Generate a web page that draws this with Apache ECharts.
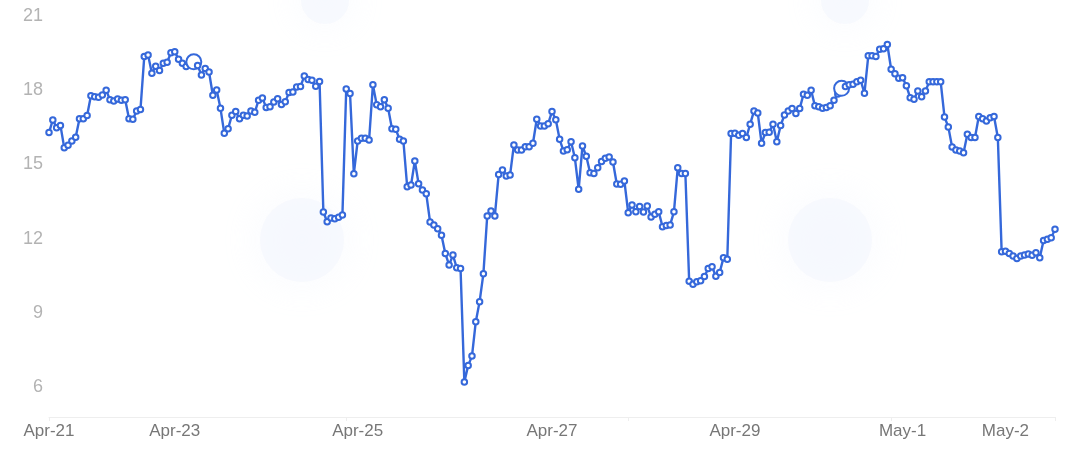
<!DOCTYPE html>
<html>
<head>
<meta charset="utf-8">
<script src="https://cdn.jsdelivr.net/npm/echarts@6/dist/echarts.min.js"></script>
<style>
    html, body {margin: 0; padding: 0; background: #fff;}
    #container {width: 1073px; height: 453px;}
</style>
</head>
<body>
<div id="container"></div>
<script>
    // price points, one per sample, left to right
    var values = [
        16.29, 16.8, 16.49, 16.58, 15.68, 15.78, 15.95, 16.1, 16.85, 16.85,
        16.98, 17.78, 17.74, 17.72, 17.81, 18.0, 17.62, 17.57, 17.65, 17.6,
        17.62, 16.85, 16.83, 17.16, 17.22, 19.36, 19.42, 18.69, 18.97, 18.8,
        19.09, 19.13, 19.52, 19.56, 19.25, 19.09, 18.96, 19.05, 19.15, 19.0,
        18.62, 18.88, 18.74, 17.8, 18.01, 17.27, 16.26, 16.45, 16.99, 17.14,
        16.85, 16.99, 16.96, 17.16, 17.11, 17.6, 17.69, 17.3, 17.33, 17.53,
        17.66, 17.42, 17.54, 17.91, 17.93, 18.13, 18.15, 18.58, 18.43, 18.4,
        18.16, 18.35, 13.08, 12.69, 12.84, 12.81, 12.87, 12.96, 18.05, 17.87,
        14.63, 15.95, 16.06, 16.06, 15.99, 18.22, 17.41, 17.33, 17.62, 17.27,
        16.45, 16.42, 16.02, 15.95, 14.1, 14.17, 15.14, 14.22, 13.97, 13.82,
        12.68, 12.56, 12.41, 12.14, 11.41, 10.94, 11.34, 10.83, 10.8, 6.21,
        6.88, 7.26, 8.65, 9.46, 10.59, 12.92, 13.12, 12.92, 14.6, 14.78,
        14.54, 14.58, 15.79, 15.59, 15.59, 15.72, 15.72, 15.86, 16.83, 16.56,
        16.56, 16.65, 17.14, 16.81, 16.02, 15.55, 15.6, 15.92, 15.27, 14.0,
        15.75, 15.33, 14.67, 14.64, 14.87, 15.12, 15.25, 15.3, 15.1, 14.21,
        14.2, 14.33, 13.05, 13.36, 13.09, 13.3, 13.08, 13.32, 12.88, 12.99,
        13.09, 12.49, 12.54, 12.56, 13.09, 14.87, 14.64, 14.64, 10.28, 10.16,
        10.26, 10.3, 10.48, 10.8, 10.87, 10.49, 10.64, 11.23, 11.17, 16.25,
        16.26, 16.18, 16.25, 16.09, 16.63, 17.16, 17.08, 15.86, 16.29, 16.3,
        16.63, 15.92, 16.58, 17.0, 17.16, 17.26, 17.06, 17.26, 17.84, 17.8,
        18.0, 17.37, 17.33, 17.27, 17.3, 17.37, 17.6, 17.85, 18.08, 18.15,
        18.22, 18.24, 18.34, 18.4, 17.88, 19.39, 19.39, 19.36, 19.66, 19.68,
        19.85, 18.85, 18.67, 18.49, 18.51, 18.18, 17.7, 17.64, 17.97, 17.74,
        17.97, 18.34, 18.34, 18.34, 18.34, 16.92, 16.52, 15.71, 15.59, 15.55,
        15.48, 16.22, 16.09, 16.09, 16.94, 16.85, 16.76, 16.89, 16.94, 16.09,
        11.48, 11.5, 11.41, 11.3, 11.2, 11.3, 11.34, 11.39, 11.33, 11.44,
        11.23, 11.93, 11.98, 12.04, 12.38
    ];
    // which samples carry a date label
    var labelIndex = [0, 33, 81, 132, 180, 224, 251];
    var labelText = ['Apr-21', 'Apr-23', 'Apr-25', 'Apr-27', 'Apr-29', 'May-1', 'May-2'];
    var tickIndex = [0, 78, 152, 221, 264];
    var yTicks = [6, 9, 12, 15, 18, 21];
    // the two hovered-looking bigger dots
    var bigDots = [38, 208];

    var categories = values.map(function (v, i) { return String(i); });

    // faint watermark blobs in the background
    function blob(cx, cy, r) {
        return {type: 'circle', z: -10, silent: true, shape: {cx: cx, cy: cy, r: r},
            style: {fill: 'rgba(243,246,253,0.6)', shadowBlur: 40, shadowColor: 'rgba(243,246,253,1)'}};
    }

    var chart = echarts.init(document.getElementById('container'));
    chart.setOption({
        animation: false,
        backgroundColor: '#fff',
        grid: {left: 49, right: 18, top: 16, bottom: 36, containLabel: false},
        graphic: [
            blob(302, 240, 42),
            blob(830, 240, 42),
            blob(325, 0, 24),
            blob(845, 0, 24)
        ],
        xAxis: {
            type: 'category',
            boundaryGap: false,
            data: categories,
            axisLine: {lineStyle: {color: '#eeeeee', width: 1}},
            axisTick: {
                show: true,
                length: 4,
                interval: function (i) { return tickIndex.indexOf(i) >= 0; },
                lineStyle: {color: '#eeeeee'}
            },
            axisLabel: {
                interval: function (i) { return labelIndex.indexOf(i) >= 0; },
                formatter: function (v) {
                    var k = labelIndex.indexOf(Number(v));
                    return k >= 0 ? labelText[k] : '';
                },
                color: '#777777',
                fontSize: 17,
                fontFamily: 'Liberation Sans, Arial, sans-serif',
                margin: 6,
                showMinLabel: true,
                showMaxLabel: true,
                hideOverlap: false
            },
            splitLine: {show: false}
        },
        yAxis: {
            type: 'value',
            min: 4.8,
            max: 21,
            axisLine: {show: false},
            axisTick: {show: false},
            splitLine: {show: false},
            axisLabel: {
                customValues: yTicks,
                color: '#b3b3b3',
                fontSize: 18,
                fontFamily: 'Liberation Sans, Arial, sans-serif',
                margin: 6
            }
        },
        series: [{
            type: 'line',
            data: values,
            symbol: 'emptyCircle',
            symbolSize: function (v, p) { return bigDots.indexOf(p.dataIndex) >= 0 ? 15 : 5.5; },
            showAllSymbol: true,
            lineStyle: {color: '#3568da', width: 2.4},
            itemStyle: {color: '#3568da', borderColor: '#3568da', borderWidth: 1.5},
            emphasis: {disabled: true}
        }]
    });
</script>
</body>
</html>
